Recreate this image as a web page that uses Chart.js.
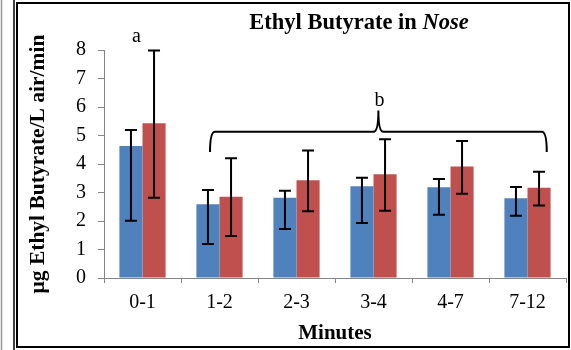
<!DOCTYPE html>
<html>
<head>
<meta charset="utf-8">
<script src="https://cdn.jsdelivr.net/npm/chart.js@4"></script>
<style>
  html, body { margin: 0; padding: 0; background: #fff; }
  canvas { display: block; }
</style>
</head>
<body>
<canvas id="grafico" width="571" height="350"></canvas>
<script>
const categorias = ['0-1', '1-2', '2-3', '3-4', '4-7', '7-12'];

// media e extremos das barras de erro
const serie1 = [4.63, 2.59, 2.82, 3.22, 3.18, 2.80];
const serie1Alto = [5.19, 3.09, 3.06, 3.52, 3.47, 3.19];
const serie1Baixo = [2.01, 1.19, 1.72, 1.93, 2.22, 2.18];

const serie2 = [5.43, 2.85, 3.43, 3.64, 3.91, 3.17];
const serie2Alto = [7.98, 4.20, 4.47, 4.87, 4.81, 3.73];
const serie2Baixo = [2.82, 1.47, 2.34, 2.36, 2.96, 2.54];

const yMin = 0, yMax = 8, yPasso = 1;
const letras = ['a', 'b'];

const fonte = "'Liberation Serif', 'Times New Roman', serif";
const cinza = '#868686';

const fundo = {
  id: 'fundo',
  beforeDraw(chart) {
    const ctx = chart.ctx;
    ctx.save();
    ctx.fillStyle = '#fff';
    ctx.fillRect(0, 0, chart.width, chart.height);
    ctx.strokeStyle = '#999';
    ctx.lineWidth = 1.5;
    ctx.beginPath(); ctx.moveTo(1.5, 0); ctx.lineTo(1.5, 350); ctx.stroke();
    ctx.strokeStyle = '#000';
    ctx.lineWidth = 1.5;
    ctx.beginPath(); ctx.moveTo(14, 0); ctx.lineTo(14, 350); ctx.stroke();
    ctx.lineWidth = 2;
    ctx.strokeRect(17, 3, 552, 344);
    ctx.restore();
  }
};

const barrasErro = {
  id: 'barrasErro',
  afterDatasetsDraw(chart) {
    const ctx = chart.ctx;
    const y = chart.scales.y;
    const extremos = [[serie1Alto, serie1Baixo], [serie2Alto, serie2Baixo]];
    ctx.save();
    ctx.strokeStyle = '#000';
    ctx.lineWidth = 2;
    chart.data.datasets.forEach((ds, d) => {
      chart.getDatasetMeta(d).data.forEach((bar, i) => {
        const yA = y.getPixelForValue(extremos[d][0][i]);
        const yB = y.getPixelForValue(extremos[d][1][i]);
        const x = bar.x;
        ctx.beginPath();
        ctx.moveTo(x, yA); ctx.lineTo(x, yB);
        ctx.moveTo(x - 6, yA); ctx.lineTo(x + 6, yA);
        ctx.moveTo(x - 6, yB); ctx.lineTo(x + 6, yB);
        ctx.stroke();
      });
    });
    ctx.restore();
  }
};

const anotacoes = {
  id: 'anotacoes',
  afterDraw(chart) {
    const ctx = chart.ctx;
    const x = chart.scales.x, y = chart.scales.y;
    ctx.save();

    // titulo com "Nose" em italico
    const t1 = 'Ethyl Butyrate in ', t2 = 'Nose';
    ctx.fillStyle = '#000';
    ctx.textBaseline = 'alphabetic';
    ctx.font = 'bold 22.5px ' + fonte;
    const w1 = ctx.measureText(t1).width;
    ctx.font = 'italic bold 22.5px ' + fonte;
    const w2 = ctx.measureText(t2).width;
    let x0 = 359 - (w1 + w2) / 2;
    ctx.font = 'bold 22.5px ' + fonte;
    ctx.textAlign = 'left';
    ctx.fillText(t1, x0, 29);
    ctx.font = 'italic bold 22.5px ' + fonte;
    ctx.fillText(t2, x0 + w1, 29);

    // chave sobre os grupos 1-2 ... 7-12
    const xe = x.getPixelForValue(0.877), xd = x.getPixelForValue(5.25);
    const xm = (xe + xd) / 2;
    const yh = y.getPixelForValue(5.13), yp = y.getPixelForValue(4.42), yt = y.getPixelForValue(5.88);
    ctx.strokeStyle = '#000';
    ctx.lineWidth = 2;
    ctx.beginPath();
    ctx.moveTo(xe, yp);
    ctx.quadraticCurveTo(xe, yh, xe + 5, yh);
    ctx.lineTo(xm - 5, yh);
    ctx.quadraticCurveTo(xm, yh, xm, yt);
    ctx.quadraticCurveTo(xm, yh, xm + 5, yh);
    ctx.lineTo(xd - 5, yh);
    ctx.quadraticCurveTo(xd, yh, xd, yp);
    ctx.stroke();

    ctx.font = '20px ' + fonte;
    ctx.textAlign = 'center';
    ctx.fillText(letras[0], x.getPixelForValue(-0.08), y.getPixelForValue(8.28));
    ctx.fillText(letras[1], xm + 1, y.getPixelForValue(6.02));
    ctx.restore();
  }
};

new Chart(document.getElementById('grafico'), {
  type: 'bar',
  data: {
    labels: categorias,
    datasets: [
      { label: 'Série 1', data: serie1, backgroundColor: '#4F81BD', categoryPercentage: 0.6, barPercentage: 1.0 },
      { label: 'Série 2', data: serie2, backgroundColor: '#C0504D', categoryPercentage: 0.6, barPercentage: 1.0 }
    ]
  },
  options: {
    responsive: false,
    animation: false,
    events: [],
    layout: { padding: { left: 0, top: 50, right: 5, bottom: 0 } },
    plugins: { legend: { display: false }, tooltip: { enabled: false } },
    scales: {
      x: {
        afterFit: s => { s.height = 72; },
        grid: { drawOnChartArea: false, color: cinza, tickLength: 5, offset: true },
        border: { color: cinza, width: 1 },
        ticks: { color: '#000', font: { family: fonte, size: 20 }, padding: 8 },
        title: { display: true, text: 'Minutes', color: '#000', font: { family: fonte, size: 21, weight: 'bold' }, padding: { top: 0 } }
      },
      y: {
        min: yMin, max: yMax,
        afterFit: s => { s.width = 104; },
        grid: { drawOnChartArea: false, color: cinza, tickLength: 6 },
        border: { color: cinza, width: 1 },
        ticks: { stepSize: yPasso, color: '#000', font: { family: fonte, size: 20 }, padding: 12 },
        title: { display: true, text: 'μg Ethyl Butyrate/L air/min', color: '#000', font: { family: fonte, size: 21.5, weight: 'bold' }, padding: { top: 26 } }
      }
    }
  },
  plugins: [fundo, barrasErro, anotacoes]
});
</script>
</body>
</html>
